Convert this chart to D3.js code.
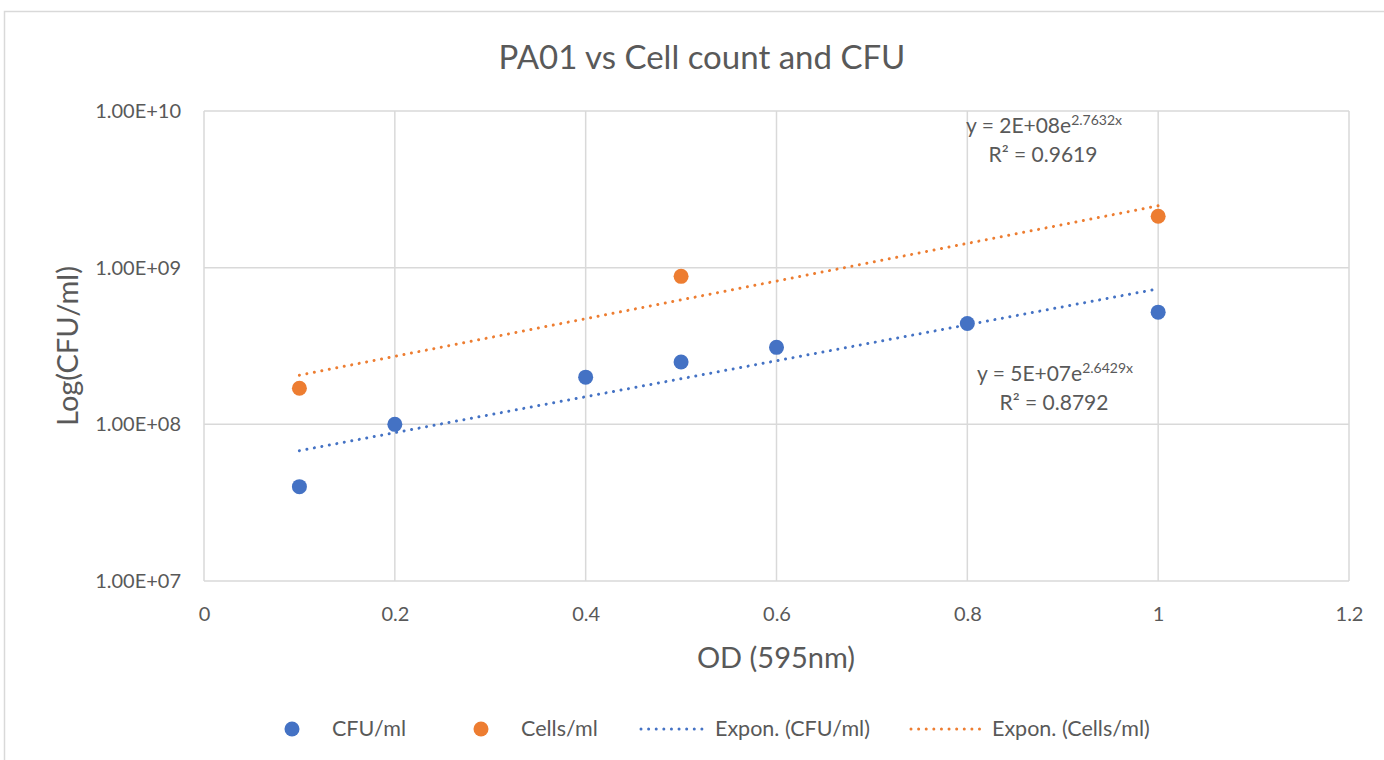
<!DOCTYPE html>
<html>
<head>
<meta charset="utf-8">
<script src="https://cdn.jsdelivr.net/npm/d3@7"></script>
<style>
  html, body { margin: 0; padding: 0; background: #fff; }
  svg { display: block; }
  text { font-family: Lato, "Open Sans", sans-serif; fill: #595959; }
</style>
</head>
<body>
<svg id="chart" width="1384" height="760"></svg>
<script>
// Measured samples: optical density vs. counts
const cfuOD = [0.1, 0.2, 0.4, 0.5, 0.6, 0.8, 1.0];
const cfuValues = [4.0e7, 1.0e8, 2.0e8, 2.5e8, 3.1e8, 4.4e8, 5.2e8];
const cellOD = [0.1, 0.5, 1.0];
const cellValues = [1.7e8, 8.8e8, 2.13e9];

const xTicks = [0, 0.2, 0.4, 0.6, 0.8, 1, 1.2];
const yTicks = [1e7, 1e8, 1e9, 1e10];
const seriesNames = ["CFU/ml", "Cells/ml", "Expon. (CFU/ml)", "Expon. (Cells/ml)"];
const cfuEquation = ["5E+07", "2.6429", "0.8792"];
const cellEquation = ["2E+08", "2.7632", "0.9619"];

const BLUE = "#4472C4", ORANGE = "#ED7D31", GRID = "#d9d9d9";

const svg = d3.select("#chart");

// chart frame
svg.append("path")
  .attr("d", "M4.5,760 L4.5,11.5 L1384,11.5")
  .attr("fill", "none").attr("stroke", GRID).attr("stroke-width", 1.5);

const L = 204, R = 1349, T = 111, B = 581;
const x = d3.scaleLinear().domain([0, 1.2]).range([L, R]);
const y = d3.scaleLog().domain([1e7, 1e10]).range([B, T]);

// gridlines
svg.append("g").selectAll("line").data(xTicks).join("line")
  .attr("x1", d => x(d)).attr("x2", d => x(d)).attr("y1", T).attr("y2", B)
  .attr("stroke", GRID).attr("stroke-width", 1.5);
svg.append("g").selectAll("line").data(yTicks).join("line")
  .attr("x1", L).attr("x2", R).attr("y1", d => y(d)).attr("y2", d => y(d))
  .attr("stroke", GRID).attr("stroke-width", 1.5);

// axes (labels only, lines drawn as grid)
const fmtE = d => {
  const e = Math.round(Math.log10(d));
  return "1.00E+" + String(e).padStart(2, "0");
};
const yAxis = svg.append("g").attr("transform", `translate(${L},0)`)
  .call(d3.axisLeft(y).tickValues(yTicks).tickFormat(fmtE).tickSize(0).tickPadding(23));
const xAxis = svg.append("g").attr("transform", `translate(0,${B})`)
  .call(d3.axisBottom(x).tickValues(xTicks).tickFormat(d3.format("")).tickSize(0).tickPadding(26));
[yAxis, xAxis].forEach(a => {
  a.select(".domain").remove();
  a.selectAll("text").style("font-family", "Lato, sans-serif").style("font-size", "20px").attr("fill", "#595959");
});

// exponential least-squares fit on ln(y)
function expFit(xs, ys) {
  const n = xs.length;
  const ly = ys.map(Math.log);
  const mx = d3.mean(xs), my = d3.mean(ly);
  let sxy = 0, sxx = 0;
  for (let i = 0; i < n; i++) { sxy += (xs[i] - mx) * (ly[i] - my); sxx += (xs[i] - mx) ** 2; }
  const b = sxy / sxx, a = Math.exp(my - b * mx);
  return t => a * Math.exp(b * t);
}

function trend(xs, ys, color) {
  const f = expFit(xs, ys);
  const [x0, x1] = d3.extent(xs);
  const pts = d3.range(0, 61).map(i => x0 + (x1 - x0) * i / 60);
  svg.append("path")
    .datum(pts)
    .attr("d", d3.line().x(d => x(d)).y(d => y(f(d))))
    .attr("fill", "none").attr("stroke", color).attr("stroke-width", 3)
    .attr("stroke-linecap", "round").attr("stroke-dasharray", "0.01 7.6");
}
trend(cfuOD, cfuValues, BLUE);
trend(cellOD, cellValues, ORANGE);

// scatter markers
function dots(xs, ys, color) {
  svg.append("g").selectAll("circle").data(xs.map((d, i) => [d, ys[i]])).join("circle")
    .attr("cx", d => x(d[0])).attr("cy", d => y(d[1])).attr("r", 7.5).attr("fill", color);
}
dots(cfuOD, cfuValues, BLUE);
dots(cellOD, cellValues, ORANGE);

// trendline equations
function equation(eq, cx, cy) {
  const t = svg.append("text").attr("x", cx).attr("y", cy).attr("text-anchor", "middle")
    .style("font-size", "21px");
  t.append("tspan").text(`y = ${eq[0]}e`);
  t.append("tspan").attr("dy", -8).style("font-size", "14px").text(`${eq[1]}x`);
  svg.append("text").attr("x", cx - 1).attr("y", cy + 29).attr("text-anchor", "middle")
    .style("font-size", "21px").text(`R² = ${eq[2]}`);
}
equation(cellEquation, 1044, 133);
equation(cfuEquation, 1055, 381);

// title
svg.append("text").attr("x", 702).attr("y", 69).attr("text-anchor", "middle")
  .style("font-size", "33px").text("PA01 vs Cell count and CFU");

// axis titles
svg.append("text").attr("transform", "translate(78,346) rotate(-90)")
  .attr("text-anchor", "middle").style("font-size", "29px").text("Log(CFU/ml)");
svg.append("text").attr("x", 776).attr("y", 668).attr("text-anchor", "middle")
  .style("font-size", "29px").text("OD (595nm)");

// legend
const LY = 729;
const legend = svg.append("g");
const items = [
  { type: "dot", color: BLUE, mx: 292, tx: 332 },
  { type: "dot", color: ORANGE, mx: 481, tx: 521 },
  { type: "line", color: BLUE, mx: 641, mx2: 708, tx: 715 },
  { type: "line", color: ORANGE, mx: 911, mx2: 984, tx: 992 }
];
items.forEach((it, i) => {
  if (it.type === "dot") {
    legend.append("circle").attr("cx", it.mx).attr("cy", LY).attr("r", 7.5).attr("fill", it.color);
  } else {
    legend.append("line").attr("x1", it.mx).attr("x2", it.mx2).attr("y1", LY).attr("y2", LY)
      .attr("stroke", it.color).attr("stroke-width", 3).attr("stroke-linecap", "round")
      .attr("stroke-dasharray", "0.01 7.6");
  }
  legend.append("text").attr("x", it.tx).attr("y", LY + 7).style("font-size", "21.5px").text(seriesNames[i]);
});
</script>
</body>
</html>
